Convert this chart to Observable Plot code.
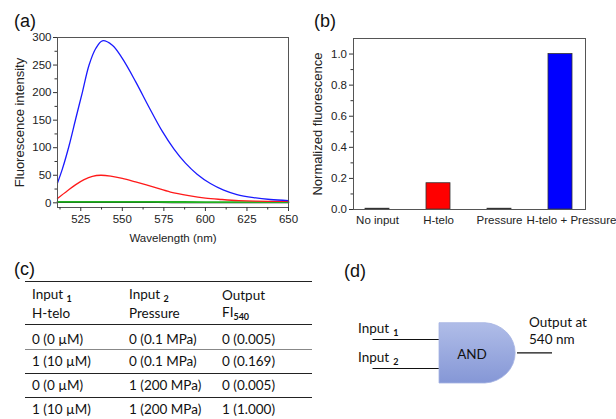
<!DOCTYPE html>
<html>
<head>
<meta charset="utf-8">
<script src="https://cdn.jsdelivr.net/npm/d3@7"></script>
<script src="https://cdn.jsdelivr.net/npm/@observablehq/plot@0.6"></script>
<style>
  html, body { margin: 0; padding: 0; background: #fff; }
  #fig { position: relative; width: 616px; height: 419px; overflow: hidden; background: #fff; font-family: "Liberation Sans", Arial, sans-serif; }
  .plab { position: absolute; font-family: "Liberation Sans", Arial, sans-serif; font-size: 18px; color: #111; }
  .tcell { position: absolute; font-family: Lato, "Open Sans", sans-serif; font-size: 13.5px; color: #111; white-space: nowrap; transform: translateY(-50%); }
  .tcell sub { font-size: 9px; font-weight: bold; vertical-align: -3px; }
  .hline { position: absolute; height: 0; border-top: 1px solid #222; }
</style>
</head>
<body>
<div id="fig"></div>
<script>
// ---------- Data: panel (a) spectra ----------
const wlHteloPressure = [511, 514, 518, 522, 526, 530, 534, 538, 544, 550, 558, 566, 574, 581, 588, 595, 603, 611, 619, 629, 639, 650];
const fiHteloPressure = [36, 62, 104, 153, 201, 250, 280, 294, 286, 262, 220, 174, 130, 98, 72, 52, 35, 23, 15, 9.5, 6, 4];
const wlHtelo = [511, 517, 522, 527, 532, 537, 543, 550, 558, 569, 579, 590, 600, 610, 620, 630, 650];
const fiHtelo = [8, 22, 33, 42, 48, 50, 48.5, 44.5, 38, 28.4, 19.5, 13, 8.5, 6, 4, 3, 2.5];
const wlPressure = [511, 540, 560, 580, 600, 625, 650];
const fiPressure = [1.8, 1.8, 1.6, 1.5, 1.3, 1.2, 1.2];
const wlNoInput = [511, 540, 560, 580, 600, 625, 650];
const fiNoInput = [0.6, 0.7, 0.9, 0.5, 0.4, 0.4, 0.4];
const xTicksA = [525, 550, 575, 600, 625, 650];
const xMinorA = [512.5, 537.5, 562.5, 587.5, 612.5, 637.5];
const yTicksA = [0, 50, 100, 150, 200, 250, 300];
const yMinorA = [25, 75, 125, 175, 225, 275];

// ---------- Data: panel (b) bars ----------
const categories = ["No input", "H-telo", "Pressure", "H-telo + Pressure"];
const normalized = [0.005, 0.169, 0.005, 1.000];
const barColors = ["#111111", "#ff0000", "#1d6b1d", "#0000ff"];
const yTicksB = [0, 0.2, 0.4, 0.6, 0.8, 1.0];
const yMinorB = [0.1, 0.3, 0.5, 0.7, 0.9];

// ---------- Data: panel (c) truth table ----------
const headInput1 = ["Input", "1", "H-telo"];
const headInput2 = ["Input", "2", "Pressure"];
const headOutput = ["Output", "FI", "540"];
const colInput1 = ["0 (0 µM)", "1 (10 µM)", "0 (0 µM)", "1 (10 µM)"];
const colInput2 = ["0 (0.1 MPa)", "0 (0.1 MPa)", "1 (200 MPa)", "1 (200 MPa)"];
const colOutput = ["0 (0.005)", "0 (0.169)", "0 (0.005)", "1 (1.000)"];

const fig = document.getElementById("fig");
function place(el, left, top) { el.style.position = "absolute"; el.style.left = left + "px"; el.style.top = top + "px"; fig.appendChild(el); }

// ---------- Panel (a) ----------
const spectra = [
  {wl: wlNoInput, fi: fiNoInput, color: "#111111", w: 1.2},
  {wl: wlPressure, fi: fiPressure, color: "#22b022", w: 1.8},
  {wl: wlHtelo, fi: fiHtelo, color: "#ff1a1a", w: 1.3},
  {wl: wlHteloPressure, fi: fiHteloPressure, color: "#1a1aff", w: 1.3}
];
const axisCol = "#333";
const plotA = Plot.plot({
  width: 300, height: 250,
  marginLeft: 57, marginRight: 12, marginTop: 37, marginBottom: 43,
  style: {fontFamily: "Liberation Sans, Arial, sans-serif", fontSize: "11.5px", color: "#222", background: "transparent"},
  x: {domain: [511, 650]},
  y: {domain: [-8.5, 300]},
  marks: [
    ...spectra.map(s => Plot.line(s.wl.map((w, i) => ({w, v: s.fi[i]})), {x: "w", y: "v", stroke: s.color, strokeWidth: s.w, curve: "catmull-rom"})),
    Plot.frame({stroke: "#555", strokeWidth: 1}),
    Plot.axisX(xTicksA, {tickSize: 4, tickPadding: 3, stroke: axisCol, label: "Wavelength (nm)", labelAnchor: "center", labelArrow: "none", labelOffset: 34, fontSize: 11.5}),
    Plot.axisX(xMinorA, {tickSize: 2.5, tickFormat: () => "", stroke: axisCol, label: null}),
    Plot.axisY(yTicksA, {tickSize: 4, tickPadding: 2, stroke: axisCol, label: null, fontSize: 11.5}),
    Plot.axisY({ticks: [], label: "Fluorescence intensity", labelAnchor: "center", labelArrow: "none", labelOffset: 43, fontSize: 13}),
    Plot.axisY(yMinorA, {tickSize: 2.5, tickFormat: () => "", stroke: axisCol, label: null})
  ]
});
place(plotA, 0, 0);

// ---------- Panel (b) ----------
const bars = categories.map((c, i) => ({c, v: normalized[i], col: barColors[i]}));
const lastCat = categories[categories.length - 1];
const plotB = Plot.plot({
  width: 316, height: 250,
  marginLeft: 53, marginRight: 31, marginTop: 38, marginBottom: 41,
  style: {fontFamily: "Liberation Sans, Arial, sans-serif", fontSize: "11.5px", color: "#222", background: "transparent"},
  x: {domain: categories, paddingInner: 0.6, paddingOuter: 0.18},
  y: {domain: [0, 1.1]},
  marks: [
    Plot.barY(bars, {x: "c", y: "v", fill: "col", stroke: "#333", strokeWidth: 0.8}),
    Plot.frame({stroke: "#555", strokeWidth: 1}),
    Plot.axisX(categories.slice(0, -1), {tickSize: 0, tickPadding: 6, label: null, fontSize: 11.5}),
    Plot.axisX([lastCat], {tickSize: 0, tickPadding: 6, label: null, fontSize: 11.5, dx: 11}),
    Plot.axisY(yTicksB, {tickSize: 4, tickPadding: 2.5, stroke: axisCol, tickFormat: d3.format(".1f"), label: null, fontSize: 11.5}),
    Plot.axisY({ticks: [], label: "Normalized fluorescence", labelAnchor: "center", labelArrow: "none", labelOffset: 41, fontSize: 13}),
    Plot.axisY(yMinorB, {tickSize: 2.5, tickFormat: () => "", stroke: axisCol, label: null})
  ]
});
place(plotB, 300, 0);

// ---------- Panel labels ----------
[["(a)", 14, 11], ["(b)", 314, 11], ["(c)", 14, 259], ["(d)", 344, 261]].forEach(([t, x, y]) => {
  const d = document.createElement("div"); d.className = "plab"; d.textContent = t; place(d, x, y);
});

// ---------- Panel (c) table ----------
const colX = [32, 129, 222];
function cell(html, x, y) { const d = document.createElement("div"); d.className = "tcell"; d.innerHTML = html; place(d, x, y); }
function hline(y, color, w) { const d = document.createElement("div"); d.className = "hline"; d.style.width = "287px"; d.style.borderTopColor = color || "#222"; d.style.borderTopWidth = (w || 1) + "px"; place(d, 25, y); }
hline(281, "#222", 1);
[headInput1, headInput2].forEach((h, i) => {
  cell(`${h[0]} <sub>${h[1]}</sub>`, colX[i], 295);
  cell(h[2], colX[i], 313);
});
cell(headOutput[0], colX[2], 295);
cell(`${headOutput[1]}<sub>${headOutput[2]}</sub>`, colX[2], 313);
hline(323.5, "#222", 1);
const rowY = [339, 361, 385, 409];
const lineY = [348.5, 372.5, 396.5];
colInput1.forEach((v, i) => {
  cell(v, colX[0], rowY[i]);
  cell(colInput2[i], colX[1], rowY[i]);
  cell(colOutput[i], colX[2], rowY[i]);
});
lineY.forEach((y, i) => hline(y, i === 0 ? "#888" : "#222", i === 0 ? 1.5 : 1));

// ---------- Panel (d) AND gate schematic ----------
const ns = "http://www.w3.org/2000/svg";
const svgD = document.createElementNS(ns, "svg");
svgD.setAttribute("width", 286); svgD.setAttribute("height", 169);
svgD.innerHTML = `
  <defs><linearGradient id="gateGrad" x1="0" y1="0" x2="0" y2="1">
    <stop offset="0" stop-color="#b0bde8"/><stop offset="1" stop-color="#8597d6"/>
  </linearGradient></defs>
  <line x1="42.5" y1="89.5" x2="109" y2="89.5" stroke="#111" stroke-width="1.2"/>
  <line x1="42.5" y1="118.5" x2="109" y2="118.5" stroke="#111" stroke-width="1.2"/>
  <line x1="187" y1="102.8" x2="222" y2="102.8" stroke="#111" stroke-width="1.2"/>
  <path d="M109,72.7 H155 A32,30.2 0 0 1 155,133 H109 Z" fill="url(#gateGrad)" stroke="#a4b2e2" stroke-width="0.8"/>
  <g font-family="Lato, 'Open Sans', sans-serif" font-size="13.5" fill="#111">
    <text x="142" y="108.5" text-anchor="middle">AND</text>
    <text x="28" y="83">Input<tspan font-size="9" font-weight="bold" dx="4" dy="3">1</tspan></text>
    <text x="28" y="112">Input<tspan font-size="9" font-weight="bold" dx="4" dy="3">2</tspan></text>
    <text x="199" y="76.5">Output at</text>
    <text x="199" y="94">540 nm</text>
  </g>`;
place(svgD, 330, 250);
</script>
</body>
</html>
